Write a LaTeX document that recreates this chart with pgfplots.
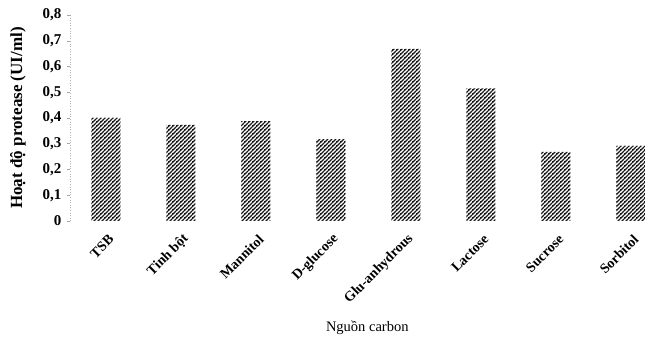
\documentclass[border=0pt]{standalone}
\usepackage{pgfplots}
\pgfplotsset{compat=1.18}
\usepackage{fontspec}
\setmainfont{Liberation Serif}
\usetikzlibrary{patterns.meta}
\pgfdeclarepattern{
  name=wavy,
  type=uncolored,
  bottom left={\pgfpoint{-0.1pt}{-0.1pt}},
  top right={\pgfpoint{4.1pt}{4.1pt}},
  tile size={\pgfpoint{4pt}{4pt}},
  code={
    \pgfsetlinewidth{1.2pt}
    \pgfpathmoveto{\pgfpoint{0pt}{0pt}}
    \pgfpathlineto{\pgfpoint{4pt}{4pt}}
    \pgfusepath{stroke}
    \pgfsetlinewidth{0.7pt}
    \pgfpathmoveto{\pgfpoint{0pt}{1.5pt}}
    \pgfpathlineto{\pgfpoint{1.7pt}{1.5pt}}
    \pgfusepath{stroke}
  }
}
\pgfplotstableread{
x val
0 0.40
1 0.373
2 0.388
3 0.318
4 0.668
5 0.515
6 0.268
7 0.292
}\datatable
\begin{document}
\begin{tikzpicture}
\begin{axis}[
  name=ax,
  scale only axis,
  width=575pt, height=206pt,
  xmin=-0.48, xmax=7.19,
  ymin=0, ymax=0.8,
  ybar, bar width=29pt,
  axis x line*=bottom,
  axis y line*=left,
  x axis line style={draw=none},
  xtick style={draw=none},
  y axis line style={draw=gray!60, dotted, line width=0.6pt},
  ytick={0,0.1,...,0.8},
  ytick style={draw=gray!70, line width=0.5pt},
  tick align=outside,
  major tick length=3pt,
  yticklabel style={font=\fontsize{15}{17}\selectfont\bfseries, xshift=-2pt},
  /pgf/number format/assume math mode=true,
  /pgf/number format/use comma,
  /pgf/number format/fixed,
  xtick={0,...,7},
  xticklabels={TSB,{Tinh bột},Mannitol,D-glucose,Glu-anhydrous,Lactose,Sucrose,Sorbitol},
  xticklabel style={font=\fontsize{14}{16}\selectfont\bfseries, rotate=45, anchor=east, yshift=-13pt, xshift=-2pt},
  ylabel={Hoạt độ protease (UI/ml)},
  ylabel style={font=\fontsize{17}{19}\selectfont\bfseries, at={(axis description cs:-0.0904,0.5)}, anchor=center},
  xlabel={Nguồn carbon},
  xlabel style={font=\fontsize{14.5}{16}\selectfont, at={(axis description cs:0.517,0)}, anchor=north, yshift=-96pt},
  clip=true,
]
\addplot[draw=none, pattern=wavy, pattern color=black!90] table[x=x,y=val] {\datatable};
\end{axis}
\pgfresetboundingbox
\useasboundingbox ([xshift=-70pt,yshift=-118pt]ax.south west) rectangle ([yshift=15pt]ax.north east);
\end{tikzpicture}
\end{document}
